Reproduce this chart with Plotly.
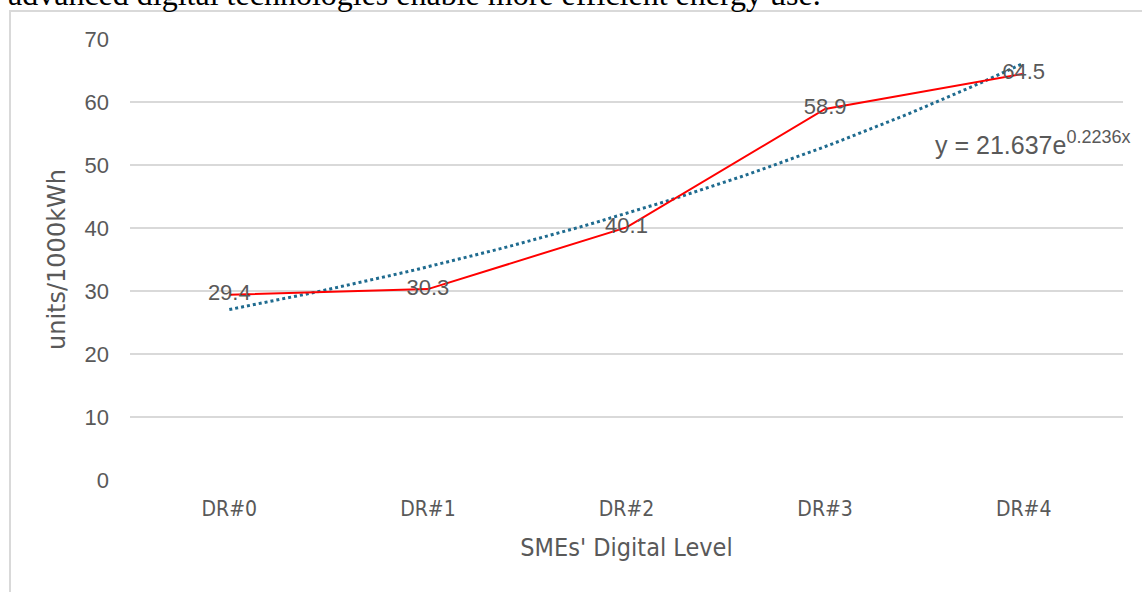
import numpy as np
import plotly.graph_objects as go

# Energy use per digital readiness level
levels = ["DR#0", "DR#1", "DR#2", "DR#3", "DR#4"]
values = [29.4, 30.3, 40.1, 58.9, 64.5]

# Exponential trendline coefficients (y = a * e^(b*x), x = 1..5)
trend_a = 21.637
trend_b = 0.2236

W, H = 1142, 592
plot_left, plot_right = 130, 1123
plot_top, plot_bottom = 39, 480

GREY = "#595959"
SANS = "Liberation Sans, Arial, sans-serif"
WIDE = "DejaVu Sans, Verdana, sans-serif"
NARROW = "DejaVu Sans Condensed, Arial Narrow, sans-serif"

fig = go.Figure()

# Exponential trendline, evaluated along the category positions
xs = np.linspace(0, len(levels) - 1, 60)
fig.add_trace(go.Scatter(
    x=xs, y=trend_a * np.exp(trend_b * (xs + 1)),
    mode="lines", line=dict(color="#1f6b8f", width=3, dash="dot"),
    hoverinfo="skip", showlegend=False,
))

# Main series with centred value labels
fig.add_trace(go.Scatter(
    x=list(range(len(levels))), y=values,
    mode="lines+text", line=dict(color="#ff0000", width=2),
    text=[f"{v:.1f}" for v in values], textposition="middle center",
    textfont=dict(family=SANS, size=22, color=GREY),
    showlegend=False,
))

fig.update_layout(
    width=W, height=H,
    margin=dict(l=0, r=0, t=0, b=0),
    paper_bgcolor="white", plot_bgcolor="white",
    xaxis=dict(
        domain=[plot_left / W, plot_right / W],
        range=[-0.5, len(levels) - 0.5],
        tickmode="array", tickvals=list(range(len(levels))), ticktext=levels,
        showgrid=False, zeroline=False, showline=False, automargin=False,
        tickfont=dict(family=NARROW, size=21, color=GREY),
        ticklabelstandoff=14,
        title=dict(text="SMEs' Digital Level",
                   font=dict(family=NARROW, size=25, color=GREY),
                   standoff=18),
    ),
    yaxis=dict(
        domain=[(H - plot_bottom) / H, (H - plot_top) / H],
        range=[0, 70], dtick=10,
        showgrid=True, gridcolor="#d9d9d9", gridwidth=1.5,
        zeroline=False, showline=False, automargin=False,
        tickfont=dict(family=SANS, size=22, color=GREY),
        ticklabelstandoff=20,
        title=dict(text="units/1000kWh",
                   font=dict(family=WIDE, size=24, color=GREY),
                   standoff=12),
    ),
    font=dict(family=SANS, color=GREY),
)

# Trendline equation
fig.add_annotation(
    x=1132 / W, y=(H - 143) / H, xref="paper", yref="paper",
    xanchor="right", yanchor="middle", showarrow=False,
    text="y = 21.637e<sup><span style='font-size:18px'>0.2236x</span></sup>",
    font=dict(family=SANS, size=25, color=GREY),
)

# Surrounding text line from the document body
fig.add_annotation(
    x=6 / W, y=(H - 14) / H, xref="paper", yref="paper",
    xanchor="left", yanchor="bottom", showarrow=False,
    text="advanced digital technologies enable more efficient energy use.",
    font=dict(family="Liberation Serif, Times New Roman, serif", size=32, color="#000000"),
)

# Chart frame
fig.add_shape(type="rect", xref="paper", yref="paper",
              x0=10 / W, x1=1.02, y0=-0.02, y1=(H - 11) / H,
              line=dict(color="#d9d9d9", width=2), fillcolor="rgba(0,0,0,0)", layer="below")

fig.write_html("out.html")
